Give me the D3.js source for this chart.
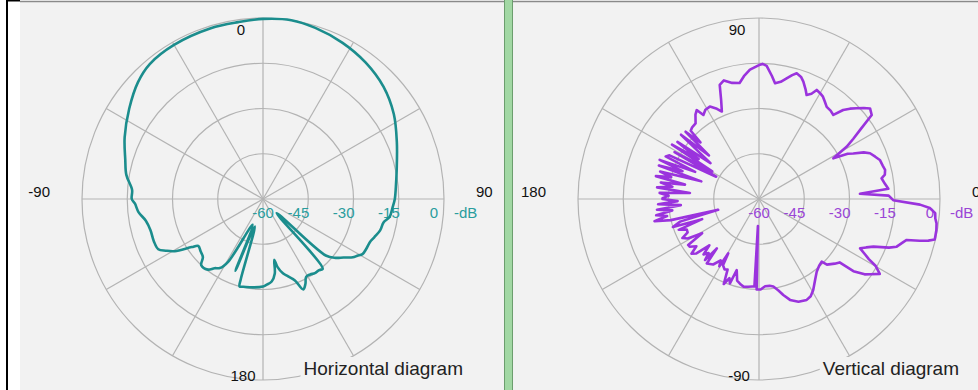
<!DOCTYPE html>
<html>
<head>
<meta charset="utf-8">
<script src="https://cdn.jsdelivr.net/npm/d3@7"></script>
<style>
body { margin: 0; background: #fff; }
svg text { font-family: "Liberation Sans", Arial, sans-serif; }
</style>
</head>
<body>
<div id="chart"></div>
<script>
var svgWidth = 978;
var svgHeight = 390;
var outerRadius = 181;
var panelBg = "#f2f2f2";

// grid
var ringDb = [-45, -30, -15, 0];
var dbTicks = [-60, -45, -30, -15, 0];
var spokeAngles = [0, 30, 60, 90, 120, 150, 180, 210, 240, 270, 300, 330];

// compass labels: top, right, bottom, left
var hCompass = ["0", "90", "180", "-90"];
var vCompass = ["90", "0", "-90", "180"];

// Horizontal diagram: angle clockwise from top (deg), gain (dB)
var hAngles = [-180, -173.5, -167.3, -165, -164.5, -163.5, -159, -158, -151, -148, -145, -142, -137, -134, -130,
  -126, -124, -120.6, -118, -115.6, -111, -105.5, -100.5, -96, -92, -90, -86, -80, -74, -66, -56, -47, -40, -30,
  -17, -8, 0, 9, 17, 27, 37, 47, 57, 67, 78, 85, 90, 94, 98, 101, 105, 109, 112, 116, 119, 121, 123, 126, 129,
  132, 136, 139.5, 142, 145, 148, 151, 153.5, 156, 158.6, 162, 165, 168, 169.5, 171, 174, 177.8];
var hGain = [-31, -30.5, -30.2, -30, -32.5, -50.5, -34.5, -50.8, -36.3, -33, -32, -30.3, -30, -32.3, -33,
  -33.5, -31.5, -26, -23.5, -21.5, -21.2, -21.3, -20.5, -18.5, -17.5, -16.5, -16.5, -14, -12.5, -9.8, -6.5, -3.3, -1.6, -1,
  -0.8, -0.8, -0.3, 0, -0.7, -1.9, -3.4, -5.4, -8.3, -11.8, -14.7, -15.8, -16.3, -17, -17.6, -19.3, -19.8, -21, -21.8, -22, -22.3, -23.5, -24.5, -27, -29,
  -32, -53.5, -29.5, -30, -30, -30.5, -30.5, -28.5, -27.2, -31, -33, -34.5, -37, -39.5, -35, -32.5, -31.5];

// Vertical diagram: angle counter-clockwise from right (deg), gain (dB)
var vAngles = [-180, -178.5, -177, -175.5, -174, -172.5, -171, -169.5, -168, -166.5, -165.2, -164, -162, -160.5, -159,
  -157, -155, -153, -151, -149, -147, -145.5, -143, -141, -139, -137, -135, -133, -131.5, -130.5, -129, -125, -122,
  -120.5, -119.5, -118.5, -116, -114, -112.5, -110.5, -109, -107.4, -105, -102, -100, -97, -94.5, -93, -92.3, -91.5,
  -89, -86, -83, -80.7, -78, -75.8, -72.9, -69, -64.7, -62, -59.2, -55, -51.6, -48, -45, -44, -40.5, -38.2, -37.4,
  -35.5, -34, -31.8, -29.8, -28.7, -27.6, -26, -24.3, -22.6, -20.5, -19.1, -16.5, -15.5, -14.6, -13.8, -13, -10,
  -7.8, -6.3, -4.6, -3, -2, -0.5, 1.5, 3, 4.5, 7, 9.6, 11, 13, 15, 17.9, 20, 22.4, 24, 25.8, 27, 28.7, 30.8, 32.5,
  34.3, 36.7, 39.2, 41, 42.9, 44.8, 46.6, 48.5, 51, 53.7, 56, 58, 60, 62.1, 63.5, 65.4, 67, 69.3, 71, 73.3, 75, 77.1,
  79.5, 82.1, 84, 86.7, 88.5, 90, 94, 97, 99.5, 103, 106.5, 109, 111, 113, 115, 118, 121, 123.5, 125, 127, 130, 133,
  135, 136, 137.5, 139, 140.5, 142, 143.5, 145, 146.5, 148, 149.5, 151, 152.5, 154, 155.5, 157, 158.5, 160, 161.5,
  163, 164.5, 166, 167.5, 169, 170.5, 172, 173.5, 175, 176.5, 178, 179.5];
var vGain = [-28, -33, -26.5, -34, -26, -31, -25.5, -29, -24.6, -30, -46, -32.8, -30, -40, -31.5,
  -34, -33.9, -31.5, -33, -38, -32, -32.1, -34, -31.2, -32.5, -37.5, -34, -35.5, -33, -38.5, -32.5, -33.5, -36,
  -34.1, -39.3, -35, -34, -34.4, -29.5, -32, -30.4, -35.3, -32, -31, -30.5, -30.7, -30.9, -31, -51, -30,
  -30, -31, -31, -30.6, -29, -27.2, -25, -23.5, -23, -23.5, -24.9, -27.5, -29.2, -30.2, -30.6, -28.7, -27, -26, -20.6,
  -17, -15.4, -12.9, -15.5, -18.5, -20.3, -22.7, -21, -18.9, -14, -11.7, -10, -9.2, -5, -2.2, -0.2, -0.3,
  -0.6, -1.2, -1.4, -3.3, -6.6, -15.5, -17, -26.5, -17, -18, -18.8, -17.5, -17.1, -17.5, -17.9, -19, -20.2, -22, -25.3, -27, -31.9, -26.2, -23,
  -19.5, -13.4, -12.5, -14, -15.8, -17.5, -19.4, -22.8, -22.3, -22.1, -21, -20, -19.5, -19.1, -21, -22.1, -20.5, -18.4, -17.2, -16.5, -17.5, -19,
  -20.5, -21.3, -19, -15.8, -15.2, -15.6, -17, -19, -21, -20.5, -19, -20, -25, -28.5, -27, -25.3, -25.5, -26.6, -24, -25, -27.3, -27.5,
  -28, -33, -27, -38, -26.5, -35, -40, -27, -36, -26, -42, -28, -44, -27, -26, -37, -24.6, -33, -25,
  -40, -26, -30, -25, -35, -27, -31, -26, -37, -27, -30, -28];

var rScale = d3.scaleLinear().domain([-60, 0]).range([0, outerRadius]);

var chart = d3.select("#chart")
  .append("svg")
  .attr("width", svgWidth)
  .attr("height", svgHeight);

chart.append("rect").attr("width", svgWidth).attr("height", svgHeight).attr("fill", "#fff");

// window frame on the left
chart.append("rect").attr("x", 6).attr("y", 0).attr("width", 2).attr("height", svgHeight).attr("fill", "#000");
chart.append("rect").attr("x", 6).attr("y", 0).attr("width", 14).attr("height", 1.5).attr("fill", "#000");

// panels
chart.append("rect").attr("x", 20).attr("y", 2).attr("width", 484).attr("height", svgHeight - 2).attr("fill", panelBg);
chart.append("rect").attr("x", 513).attr("y", 2).attr("width", svgWidth - 513).attr("height", svgHeight - 2).attr("fill", panelBg);
chart.append("line").attr("x1", 20).attr("x2", svgWidth).attr("y1", 1.5).attr("y2", 1.5)
  .attr("stroke", "#8a8a8a").attr("stroke-width", 1.5);

// green splitter
chart.append("rect").attr("x", 504).attr("y", 0).attr("width", 9).attr("height", svgHeight).attr("fill", "#a2d8a4");
chart.append("line").attr("x1", 504.5).attr("x2", 504.5).attr("y1", 0).attr("y2", svgHeight).attr("stroke", "#6c9e6e");
chart.append("line").attr("x1", 512.5).attr("x2", 512.5).attr("y1", 0).attr("y2", svgHeight).attr("stroke", "#6c9e6e");

function drawPanel(cx, cy, angles, gains, screenAngle, curve, color, labelColor, compass, title) {
  var g = chart.append("g").attr("transform", "translate(" + cx + "," + cy + ")");

  // rings
  g.selectAll("circle.ring")
    .data(ringDb)
    .enter()
    .append("circle")
    .attr("class", "ring")
    .attr("r", function(d) { return rScale(d); })
    .attr("fill", "none")
    .attr("stroke", "#b3b3b3")
    .attr("stroke-width", 1.2);

  // spokes
  g.selectAll("line.spoke")
    .data(spokeAngles)
    .enter()
    .append("line")
    .attr("class", "spoke")
    .attr("x1", 0).attr("y1", 0)
    .attr("x2", function(d) { return outerRadius * Math.sin(d * Math.PI / 180); })
    .attr("y2", function(d) { return -outerRadius * Math.cos(d * Math.PI / 180); })
    .attr("stroke", "#b3b3b3")
    .attr("stroke-width", 1.2);

  // title with a box that hides the ring behind it
  var titleText = g.append("text")
    .attr("x", 200)
    .attr("y", 176)
    .attr("text-anchor", "end")
    .style("font-size", "19px")
    .attr("fill", "#222")
    .text(title);
  var bb = titleText.node().getBBox();
  g.insert("rect", "text")
    .attr("x", bb.x - 3)
    .attr("y", 158)
    .attr("width", bb.width + 20)
    .attr("height", 40)
    .attr("fill", panelBg);

  // compass labels
  var cl = g.append("g").style("font-size", "15px").attr("fill", "#111");
  cl.append("text").attr("x", -22).attr("y", -164).attr("text-anchor", "middle").text(compass[0]);
  cl.append("text").attr("x", 213).attr("y", -2).attr("text-anchor", "start").text(compass[1]);
  cl.append("text").attr("x", -20).attr("y", 182).attr("text-anchor", "middle").text(compass[2]);
  cl.append("text").attr("x", -213).attr("y", -2).attr("text-anchor", "end").text(compass[3]);

  // dB scale labels
  var dl = g.append("g").style("font-size", "15px").attr("fill", labelColor);
  dl.selectAll("text")
    .data(dbTicks)
    .enter()
    .append("text")
    .attr("x", function(d) {
      if (d === -60) return 0;
      if (d === 0) return rScale(d) - 6;
      return rScale(d) + 1;
    })
    .attr("y", 19)
    .attr("text-anchor", function(d) { return d === -60 ? "middle" : "end"; })
    .text(function(d) { return d; });
  dl.append("text").attr("x", 191).attr("y", 19).text("-dB");

  // pattern
  var pts = angles.map(function(a, i) { return [screenAngle(a), gains[i]]; });
  var line = d3.lineRadial()
    .angle(function(d) { return d[0] * Math.PI / 180; })
    .radius(function(d) { return rScale(d[1]); })
    .curve(curve);
  g.append("path")
    .attr("d", line(pts))
    .attr("fill", "none")
    .attr("stroke", color)
    .attr("stroke-width", 2.6)
    .attr("stroke-linejoin", "round");
}

drawPanel(263, 199, hAngles, hGain, function(a) { return a; }, d3.curveCatmullRomClosed.alpha(0.5),
  "#1b8d8d", "#2a9d9d", hCompass, "Horizontal diagram");
drawPanel(759, 199, vAngles, vGain, function(a) { return 90 - a; }, d3.curveLinearClosed,
  "#9a33dd", "#9a45d6", vCompass, "Vertical diagram");
</script>
</body>
</html>
